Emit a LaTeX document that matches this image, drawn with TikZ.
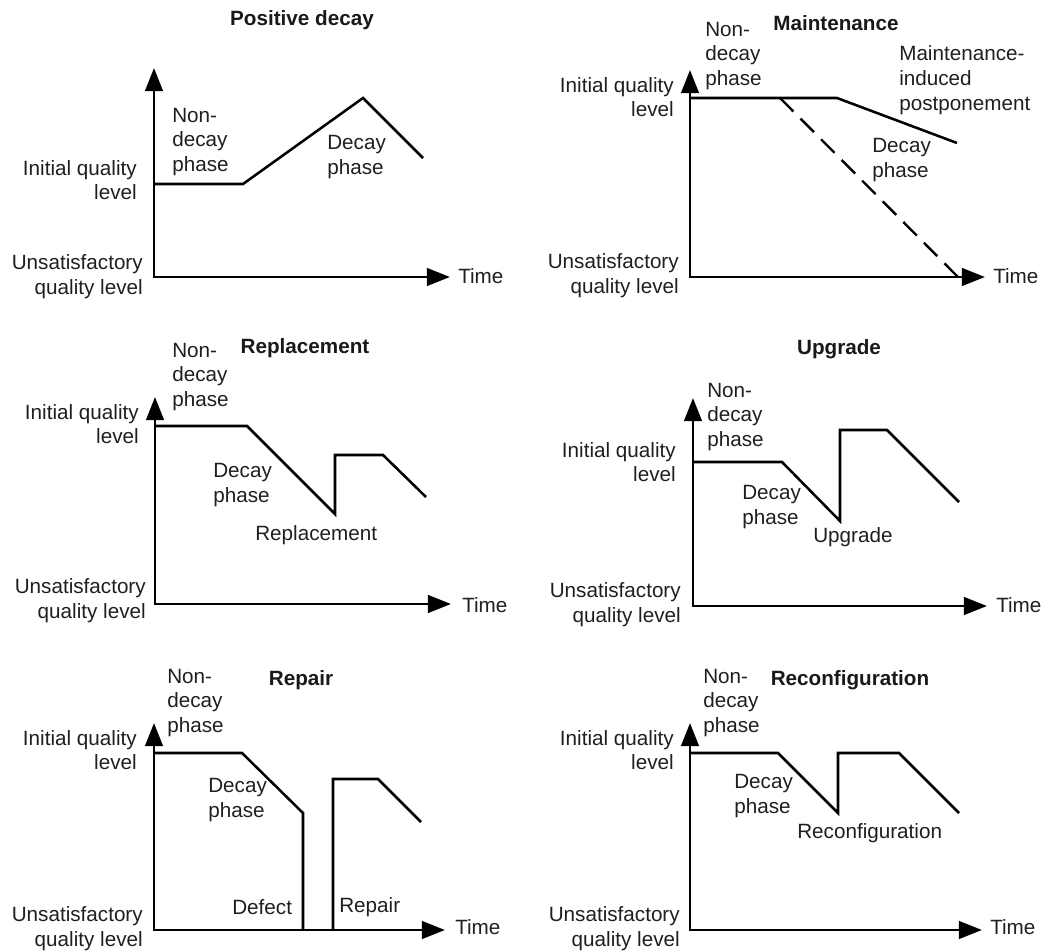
\documentclass[tikz,border=0pt]{standalone}
\usepackage{fontspec}
\setmainfont{Liberation Sans}
\usetikzlibrary{arrows.meta}
\begin{document}
\begin{tikzpicture}[x=0.25mm,y=-0.25mm,
  axes/.style={line width=2.1pt,line join=miter,
    {Triangle[length=16.5pt,width=12.5pt]}-{Triangle[length=16.5pt,width=12.5pt]}},
  curve/.style={line width=1.8pt,line join=miter},
  dcurve/.style={line width=1.7pt,dash pattern=on 13.5pt off 7.24pt},
  lbl/.style={inner sep=0pt,text=black!88,font=\fontsize{14.7}{17.6}\selectfont},
  lbll/.style={lbl,align=left,anchor=west},
  lblr/.style={lbl,align=right,anchor=east},
  ttl/.style={inner sep=0pt,text=black!90,font=\bfseries\fontsize{14.7}{17.6}\selectfont}]
\useasboundingbox (0,0) rectangle (1044,952);

% ---------- Panel 1: Positive decay ----------
\node[ttl] (t1) at (302,20) {Positive decay};
\coordinate (y1) at (154,68); \coordinate (o1) at (154,277); \coordinate (x1) at (450,277);
\draw[axes] (y1) -- (o1) -- (x1);
\coordinate (a1) at (154,184); \coordinate (b1) at (243,184);
\coordinate (c1) at (363,98);  \coordinate (d1) at (423,158);
\draw[curve] (a1) -- (b1) -- (c1) -- (d1);
\node[lbll] (time1) at (458,276) {Time};
\node[lblr] (iq1) at (137,180) {Initial quality\\level};
\node[lblr] (uq1) at (143,277) {Unsatisfactory\\quality level};
\node[lbll] (nd1) at (172,142) {Non-\\decay\\phase};
\node[lbll] (dp1) at (327,157) {Decay\\phase};

% ---------- Panel 2: Maintenance ----------
\node[ttl] (t2) at (836,23) {Maintenance};
\coordinate (y2) at (690,70); \coordinate (o2) at (690,277); \coordinate (x2) at (985,277);
\draw[axes] (y2) -- (o2) -- (x2);
\coordinate (a2) at (690,98); \coordinate (b2) at (837,98); \coordinate (c2) at (957,143);
\draw[curve] (a2) -- (b2) -- (c2);
\coordinate (e2) at (780,98); \coordinate (f2) at (958,277);
\draw[dcurve] (e2) -- (f2);
\node[lbll] (time2) at (993,276) {Time};
\node[lblr] (iq2) at (674,97) {Initial quality\\level};
\node[lblr] (uq2) at (679,276) {Unsatisfactory\\quality level};
\node[lbll] (nd2) at (705,56) {Non-\\decay\\phase};
\node[lbll] (mi2) at (899,80) {Maintenance-\\induced\\postponement};
\node[lbll] (dp2) at (872,160) {Decay\\phase};

% ---------- Panel 3: Replacement ----------
\node[ttl] (t3) at (305,348) {Replacement};
\coordinate (y3) at (155,397); \coordinate (o3) at (155,604); \coordinate (x3) at (451,604);
\draw[axes] (y3) -- (o3) -- (x3);
\coordinate (a3) at (155,426); \coordinate (b3) at (247,426); \coordinate (c3) at (335,514);
\coordinate (d3) at (335,455); \coordinate (e3) at (383,455); \coordinate (f3) at (426,497);
\draw[curve] (a3) -- (b3) -- (c3) -- (d3) -- (e3) -- (f3);
\node[lbll] (time3) at (462,605) {Time};
\node[lblr] (iq3) at (139,424) {Initial quality\\level};
\node[lblr] (uq3) at (146,601) {Unsatisfactory\\quality level};
\node[lbll] (nd3) at (172,377) {Non-\\decay\\phase};
\node[lbll] (dp3) at (213,485) {Decay\\phase};
\node[lbll] (rp3) at (255,535) {Replacement};

% ---------- Panel 4: Upgrade ----------
\node[ttl] (t4) at (839,349) {Upgrade};
\coordinate (y4) at (693,398); \coordinate (o4) at (693,606); \coordinate (x4) at (987,606);
\draw[axes] (y4) -- (o4) -- (x4);
\coordinate (a4) at (693,462); \coordinate (b4) at (782,462); \coordinate (c4) at (840,521);
\coordinate (d4) at (840,430); \coordinate (e4) at (887,430); \coordinate (f4) at (959,502);
\draw[curve] (a4) -- (b4) -- (c4) -- (d4) -- (e4) -- (f4);
\node[lbll] (time4) at (996,605) {Time};
\node[lblr] (iq4) at (676,462) {Initial quality\\level};
\node[lblr] (uq4) at (681,605) {Unsatisfactory\\quality level};
\node[lbll] (nd4) at (707,417) {Non-\\decay\\phase};
\node[lbll] (dp4) at (742,507) {Decay\\phase};
\node[lbll] (up4) at (813,537) {Upgrade};

% ---------- Panel 5: Repair ----------
\node[ttl] (t5) at (301,680) {Repair};
\coordinate (y5) at (154,723); \coordinate (o5) at (154,930); \coordinate (x5) at (445,930);
\draw[axes] (y5) -- (o5) -- (x5);
\coordinate (a5) at (154,753); \coordinate (b5) at (242,753); \coordinate (c5) at (303,813);
\coordinate (d5) at (303,930);
\draw[curve] (a5) -- (b5) -- (c5) -- (d5);
\coordinate (e5) at (333,930); \coordinate (f5) at (333,779); \coordinate (g5) at (378,779);
\coordinate (h5) at (421,822);
\draw[curve] (e5) -- (f5) -- (g5) -- (h5);
\node[lbll] (time5) at (455,927) {Time};
\node[lblr] (iq5) at (137,750) {Initial quality\\level};
\node[lblr] (uq5) at (143,929) {Unsatisfactory\\quality level};
\node[lbll] (nd5) at (167,703) {Non-\\decay\\phase};
\node[lbll] (dp5) at (208,800) {Decay\\phase};
\node[lbll] (df5) at (232,907) {Defect};
\node[lbll] (rp5) at (339,907) {Repair};

% ---------- Panel 6: Reconfiguration ----------
\node[ttl] (t6) at (850,680) {Reconfiguration};
\coordinate (y6) at (690,723); \coordinate (o6) at (690,930); \coordinate (x6) at (982,930);
\draw[axes] (y6) -- (o6) -- (x6);
\coordinate (a6) at (690,753); \coordinate (b6) at (778,753); \coordinate (c6) at (838,813);
\coordinate (d6) at (838,753); \coordinate (e6) at (899,753); \coordinate (f6) at (959,813);
\draw[curve] (a6) -- (b6) -- (c6) -- (d6) -- (e6) -- (f6);
\node[lbll] (time6) at (990,927) {Time};
\node[lblr] (iq6) at (674,750) {Initial quality\\level};
\node[lblr] (uq6) at (680,929) {Unsatisfactory\\quality level};
\node[lbll] (nd6) at (703,703) {Non-\\decay\\phase};
\node[lbll] (dp6) at (734,796) {Decay\\phase};
\node[lbll] (rc6) at (797,833) {Reconfiguration};
\end{tikzpicture}
\end{document}
